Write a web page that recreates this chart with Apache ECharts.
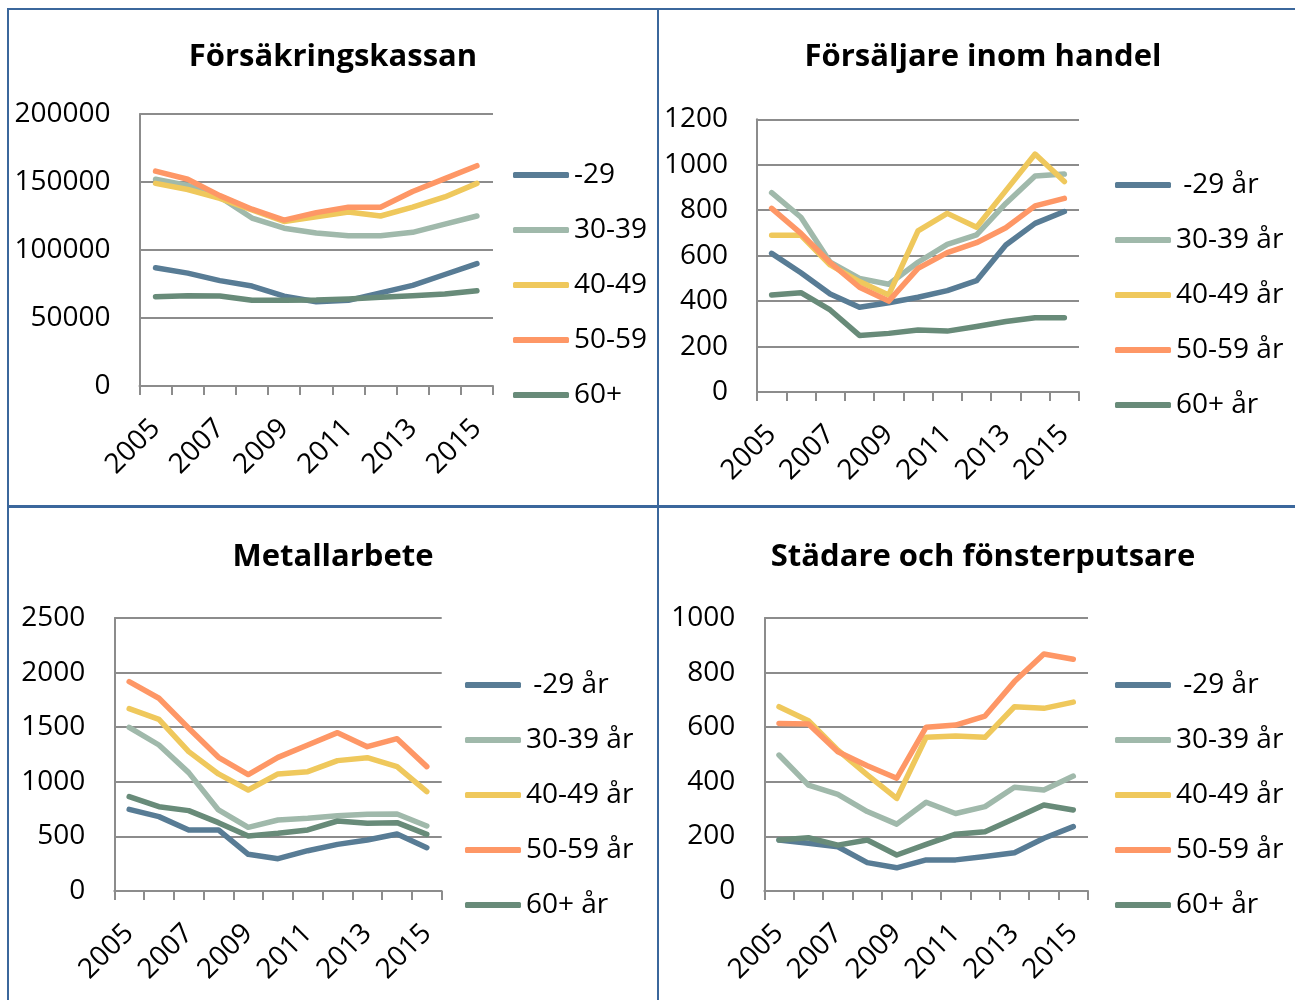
<!DOCTYPE html>
<html>
<head>
<meta charset="utf-8">
<title>Ålder per yrke</title>
<script src="https://cdn.jsdelivr.net/npm/echarts@6/dist/echarts.min.js"></script>
<style>
    html, body {margin: 0; padding: 0; width: 1295px; height: 1000px; overflow: hidden; background: #fff;}
    .panel {position: absolute; width: 650px;}
    .line {position: absolute; background: #3b679c;}
</style>
</head>
<body>
<div id="p1" class="panel" style="left:8px;top:9px;height:498px"></div>
<div id="p2" class="panel" style="left:658px;top:9px;height:498px"></div>
<div id="p3" class="panel" style="left:8px;top:507px;height:493px"></div>
<div id="p4" class="panel" style="left:658px;top:507px;height:493px"></div>
<div class="line" style="left:7px;top:8px;width:2px;height:992px"></div>
<div class="line" style="left:7px;top:8px;width:1288px;height:2px"></div>
<div class="line" style="left:657px;top:8px;width:2px;height:992px"></div>
<div class="line" style="left:7px;top:505px;width:1288px;height:3px"></div>
<script>
var years = ['2005', '2006', '2007', '2008', '2009', '2010', '2011', '2012', '2013', '2014', '2015'];
var names1 = ['-29', '30-39', '40-49', '50-59', '60+'];
var names2 = [' -29 år', '30-39 år', '40-49 år', '50-59 år', '60+ år'];
var colors = ['#587c95', '#a0b9ab', '#efc85c', '#fe9766', '#688b79'];

//Försäkringskassan
var fk29 = [87000, 83000, 77500, 73500, 66000, 62000, 63000, 68500, 74000, 82000, 90000];
var fk3039 = [152000, 147500, 139000, 123500, 116000, 112500, 110500, 110500, 113000, 119000, 125000];
var fk4049 = [149000, 144500, 138000, 129500, 121000, 124500, 128000, 125000, 131500, 139000, 149000];
var fk5059 = [158000, 152000, 140000, 130000, 122000, 127500, 131500, 131500, 143000, 152500, 162000];
var fk60 = [65700, 66300, 66200, 63000, 63000, 63200, 64000, 65200, 66300, 67700, 70000];

//Försäljare inom handel
var fh29 = [610, 525, 431, 373, 393, 417, 446, 490, 647, 742, 794];
var fh3039 = [877, 769, 571, 500, 474, 571, 650, 691, 830, 951, 959];
var fh4049 = [690, 690, 559, 486, 427, 709, 786, 725, 886, 1047, 926];
var fh5059 = [808, 698, 569, 461, 400, 544, 613, 657, 723, 819, 852];
var fh60 = [427, 437, 361, 249, 258, 273, 268, 288, 310, 327, 327];

//Metallarbete
var ma29 = [748, 681, 559, 559, 336, 296, 369, 427, 467, 522, 397];
var ma3039 = [1499, 1337, 1084, 742, 583, 650, 666, 690, 702, 705, 595];
var ma4049 = [1670, 1572, 1276, 1072, 925, 1072, 1093, 1194, 1221, 1139, 910];
var ma5059 = [1917, 1765, 1490, 1224, 1066, 1224, 1337, 1450, 1322, 1395, 1139];
var ma60 = [864, 772, 736, 626, 504, 528, 559, 641, 620, 626, 519];

//Städare och fönsterputsare
var st29 = [187, 175, 162, 104, 85, 114, 114, 126, 140, 193, 236];
var st3039 = [498, 388, 354, 291, 245, 325, 284, 309, 380, 370, 421];
var st4049 = [675, 624, 516, 425, 339, 563, 568, 563, 675, 669, 692];
var st5059 = [614, 612, 510, 459, 413, 600, 608, 641, 767, 868, 849];
var st60 = [187, 195, 168, 187, 132, 171, 208, 217, 266, 315, 297];

var font = "'Open Sans', sans-serif";
var axisGray = '#8c8c8c';

//one panel = one chart
function drawPanel(o) {
    var e = echarts.init(document.getElementById(o.id));
    var series = [];
    for (var i = 0; i < o.data.length; i++) {
        series.push({
            name: o.names[i],
            type: 'line',
            data: o.data[i],
            symbol: 'none',
            color: colors[i],
            lineStyle: {width: 5.5, color: colors[i], cap: 'round', join: 'round'}
        });
    }
    var option = {
        animation: false,
        title: {
            text: o.title,
            left: 'center',
            top: o.titleTop,
            textStyle: {fontFamily: font, fontSize: 31, fontWeight: 'bold', color: '#000', lineHeight: 34}
        },
        legend: {
            orient: 'vertical',
            left: o.legendLeft,
            top: o.legendTop,
            icon: 'roundRect',
            itemWidth: 56,
            itemHeight: 6,
            itemGap: 27,
            selectedMode: false,
            itemStyle: {borderWidth: 0},
            textStyle: {fontFamily: font, fontSize: 28, color: '#000', lineHeight: 28},
            data: o.names
        },
        grid: {
            left: o.grid[0], top: o.grid[1], width: o.grid[2], height: o.grid[3],
            containLabel: false, outerBoundsMode: 'none'
        },
        xAxis: {
            type: 'category',
            boundaryGap: true,
            data: years,
            axisLine: {lineStyle: {color: axisGray, width: 2}},
            axisTick: {show: true, interval: 0, length: 9, lineStyle: {color: axisGray, width: 2}},
            axisLabel: {interval: 1, rotate: 45, margin: 38, hideOverlap: false, fontFamily: font, fontSize: 28, color: '#000'},
            splitLine: {show: false}
        },
        yAxis: {
            type: 'value',
            min: 0,
            max: o.max,
            interval: o.step,
            axisLine: {show: true, lineStyle: {color: axisGray, width: 2}},
            axisTick: {show: false},
            axisLabel: {
                margin: 29, fontFamily: font, fontSize: 28, color: '#000',
                formatter: function (v) { return String(v); }
            },
            splitLine: {show: true, lineStyle: {color: axisGray, width: 2}}
        },
        series: series
    };
    e.setOption(option);
}

drawPanel({
    id: 'p1', title: 'Försäkringskassan', titleTop: 26,
    names: names1, data: [fk29, fk3039, fk4049, fk5059, fk60],
    max: 200000, step: 50000,
    grid: [131.5, 105, 353.5, 272],
    legendLeft: 500, legendTop: 147
});
drawPanel({
    id: 'p2', title: 'Försäljare inom handel', titleTop: 26,
    names: names2, data: [fh29, fh3039, fh4049, fh5059, fh60],
    max: 1200, step: 200,
    grid: [99, 110.3, 322, 272.7],
    legendLeft: 452, legendTop: 157
});
drawPanel({
    id: 'p3', title: 'Metallarbete', titleTop: 28,
    names: names2, data: [ma29, ma3039, ma4049, ma5059, ma60],
    max: 2500, step: 500,
    grid: [106.3, 111, 327.4, 273],
    legendLeft: 452, legendTop: 159
});
drawPanel({
    id: 'p4', title: 'Städare och fönsterputsare', titleTop: 28,
    names: names2, data: [st29, st3039, st4049, st5059, st60],
    max: 1000, step: 200,
    grid: [106.3, 111, 323.7, 273],
    legendLeft: 452, legendTop: 159
});
</script>
</body>
</html>
